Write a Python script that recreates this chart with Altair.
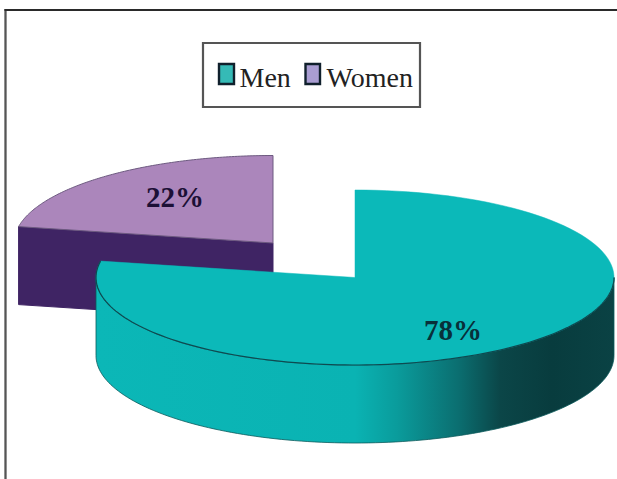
import math
import altair as alt
import pandas as pd

# Survey split shown on the pie
categories = ["Men", "Women"]
shares = [78, 22]

# Pie geometry, in page units
RX, RY = 259, 87.5
DEPTH = 78
MEN_CENTRE = (355, 277.5)
WOMEN_CENTRE = (273, 243)

TOP_COLOURS = {"Men": "#0bb9b9", "Women": "#ab86bb"}
WALL_WOMEN = "#3f2464"
OUTLINE = "#0e4a50"

women_sweep = shares[1] / 100 * 2 * math.pi


def rim(cx, cy, start, stop, steps=120, dy=0.0):
    """Points along the ellipse, angles clockwise from twelve o'clock."""
    out = []
    for k in range(steps + 1):
        t = start + (stop - start) * k / steps
        out.append((cx + RX * math.sin(t), cy - RY * math.cos(t) + dy))
    return out


def frame(points):
    closed = points + [points[0]]
    return pd.DataFrame(
        {"px": [p[0] for p in closed], "py": [p[1] for p in closed], "i": range(len(closed))}
    )


x_scale = alt.Scale(domain=[0, 617], range=[0, 617], nice=False, zero=False)
y_scale = alt.Scale(domain=[0, 479], range=[0, 479], nice=False, zero=False)
X = alt.X("px:Q", scale=x_scale, axis=None)
Y = alt.Y("py:Q", scale=y_scale, axis=None)


def polygon(points, **mark):
    return (
        alt.Chart(frame(points))
        .mark_line(**mark)
        .encode(x=X, y=Y, order=alt.Order("i:Q"))
    )


# Women slice: pulled out to the upper left
wcx, wcy = WOMEN_CENTRE
w_left = rim(wcx, wcy, -women_sweep, 0)
women_wall_points = [
    (wcx, wcy),
    w_left[0],
    (w_left[0][0], w_left[0][1] + DEPTH),
    (wcx, wcy + DEPTH),
]
women_wall = polygon(women_wall_points, fill=WALL_WOMEN, stroke=WALL_WOMEN, strokeWidth=1)
women_top = polygon(
    [(wcx, wcy)] + w_left, fill=TOP_COLOURS["Women"], stroke="#6d5a80", strokeWidth=1
)

# Men slice: outer wall, shaded from bright teal to near black on the right
mcx, mcy = MEN_CENTRE
front = rim(mcx, mcy, math.pi / 2, 3 * math.pi / 2)
men_wall_points = front + [(x, y + DEPTH) for x, y in reversed(front)]
wall_gradient = alt.Gradient(
    gradient="linear",
    x1=0,
    x2=1,
    y1=0,
    y2=0,
    stops=[
        alt.GradientStop(color="#0bb7b7", offset=0.0),
        alt.GradientStop(color="#0ab3b3", offset=0.50),
        alt.GradientStop(color="#0a9c9c", offset=0.58),
        alt.GradientStop(color="#0b6e70", offset=0.70),
        alt.GradientStop(color="#0b4648", offset=0.78),
        alt.GradientStop(color="#083c3e", offset=0.88),
        alt.GradientStop(color="#0a4244", offset=1.0),
    ],
)
men_wall = polygon(men_wall_points, fill=wall_gradient, stroke="#0b5a5c", strokeWidth=0.8)
men_top = polygon(
    [(mcx, mcy)] + rim(mcx, mcy, 0, 2 * math.pi - women_sweep),
    fill=TOP_COLOURS["Men"],
    stroke=TOP_COLOURS["Men"],
    strokeWidth=0.5,
)
men_rim = (
    alt.Chart(frame(rim(mcx, mcy, math.pi / 2, 2 * math.pi - women_sweep)).iloc[:-1])
    .mark_line(stroke=OUTLINE, strokeWidth=1.2)
    .encode(x=X, y=Y, order=alt.Order("i:Q"))
)

# Outer frame: left and top edges only
frame_left = (
    alt.Chart(pd.DataFrame({"px": [5.5], "py": [9], "py2": [479]}))
    .mark_rule(color="#555555", strokeWidth=2.3)
    .encode(x=X, y=Y, y2="py2:Q")
)
frame_top = (
    alt.Chart(pd.DataFrame({"px": [4.5], "px2": [617], "py": [10]}))
    .mark_rule(color="#2a2a2a", strokeWidth=2)
    .encode(x=X, x2="px2:Q", y=Y)
)

# Legend box, swatches and names
legend_box = (
    alt.Chart(pd.DataFrame({"px": [203], "px2": [420], "py": [43], "py2": [107]}))
    .mark_rect(fill="white", stroke="#555555", strokeWidth=2.2)
    .encode(x=X, x2="px2:Q", y=Y, y2="py2:Q")
)
swatches = (
    alt.Chart(
        pd.DataFrame(
            {
                "px": [219, 305.5],
                "px2": [234, 320],
                "py": [64, 64],
                "py2": [84, 84],
                "name": categories,
            }
        )
    )
    .mark_rect(stroke="#10202c", strokeWidth=2.4)
    .encode(
        x=X,
        x2="px2:Q",
        y=Y,
        y2="py2:Q",
        fill=alt.Fill(
            "name:N",
            scale=alt.Scale(domain=categories, range=["#35bab6", "#a99dd2"]),
            legend=None,
        ),
    )
)
legend_names = (
    alt.Chart(pd.DataFrame({"px": [239.5, 326.5], "py": [87, 87], "name": categories}))
    .mark_text(font="Liberation Serif", fontSize=28, align="left", baseline="alphabetic", color="#222222")
    .encode(x=X, y=Y, text="name:N")
)

# Percentage labels
labels = (
    alt.Chart(
        pd.DataFrame(
            {
                "px": [453, 175],
                "py": [340, 207],
                "share": shares,
                "name": categories,
            }
        )
    )
    .transform_calculate(label="datum.share + '%'")
    .mark_text(font="Liberation Serif", fontSize=29, fontWeight="bold", align="center", baseline="alphabetic")
    .encode(
        x=X,
        y=Y,
        text="label:N",
        color=alt.Color(
            "name:N",
            scale=alt.Scale(domain=categories, range=["#08303a", "#1c1036"]),
            legend=None,
        ),
    )
)

chart = (
    alt.layer(
        frame_left,
        frame_top,
        women_wall,
        women_top,
        men_wall,
        men_top,
        men_rim,
        legend_box,
        swatches,
        legend_names,
        labels,
    )
    .resolve_scale(color="independent", fill="independent")
    .properties(
        width=617,
        height=479,
        padding=0,
        autosize=alt.AutoSizeParams(type="none"),
        background="white",
    )
    .configure_view(stroke=None)
)

chart.save("out.html", embed_options={"renderer": "svg", "actions": False})
